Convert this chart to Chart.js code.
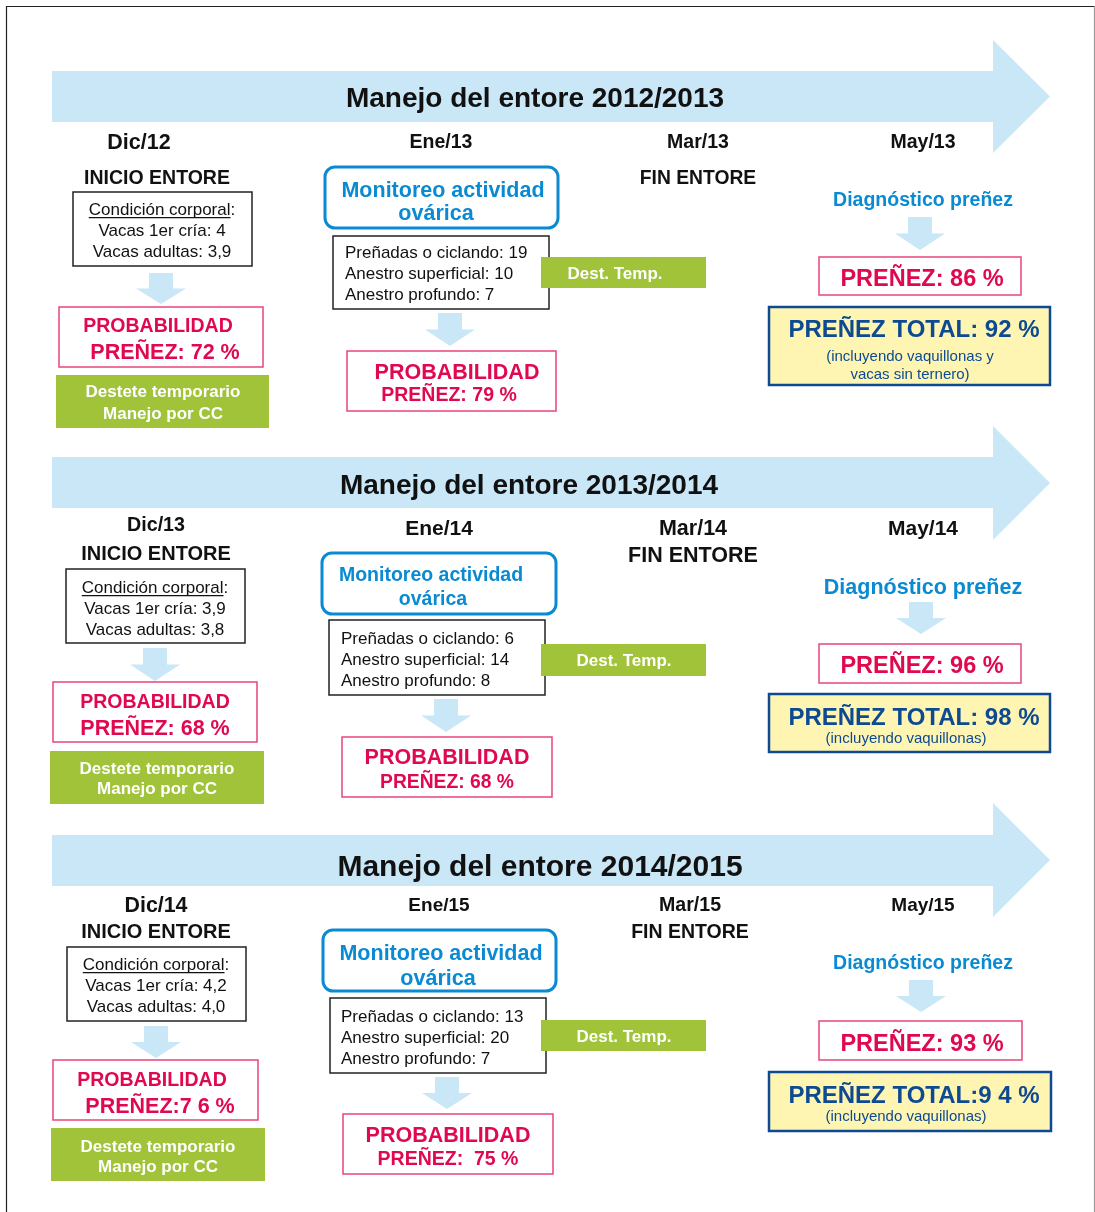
<!DOCTYPE html>
<html>
<head>
<meta charset="utf-8">
<script src="https://cdn.jsdelivr.net/npm/chart.js@4"></script>
<style>html,body{margin:0;padding:0;background:#fff}</style>
</head>
<body>
<canvas id="c" width="1095" height="1212"></canvas>
<script>
// data
const seasons = ['2012/2013', '2013/2014', '2014/2015'];
const months = [
  ['Dic/12', 'Ene/13', 'Mar/13', 'May/13'],
  ['Dic/13', 'Ene/14', 'Mar/14', 'May/14'],
  ['Dic/14', 'Ene/15', 'Mar/15', 'May/15']
];
const ccPrimerCria = ['4', '3,9', '4,2'];
const ccAdultas = ['3,9', '3,8', '4,0'];
const ciclando = [19, 6, 13];
const anestroSuperficial = [10, 14, 20];
const anestroProfundo = [7, 8, 7];
const probInicio = [72, 68, 76];
const probMonitoreo = [79, 68, 75];
const prenez = [86, 96, 93];
const prenezTotal = [92, 98, 94];
const totalNotes = [
  ['(incluyendo vaquillonas y', 'vacas sin ternero)'],
  ['(incluyendo vaquillonas)'],
  ['(incluyendo vaquillonas)']
];

// layout in picture units (x 0..1095, y 0..1212)
const layout = [
  {
    band: [52, 71, 122], head: [993, 40, 153, 1050], title: [535, 97, 28],
    months: [[139, 141, 21.5], [441, 141, 19.5], [698, 141, 19.5], [923, 141, 19.5]],
    inicio: [157, 177, 19.5], fin: [698, 177, 19.3],
    cc: { box: [73, 192, 179, 74], cx: 162, lines: [209, 230, 251] },
    arr1: [161, 273, 304],
    prob1: { box: [59, 307, 204, 60], l1: [158, 325, 19.5], l2: [165, 351, 21.5] },
    green: { box: [56, 375, 213, 53], cx: 163, l1: 391, l2: 413 },
    mon: { box: [325, 167, 233, 61], l1: [443, 189], l2: [436, 212], size: 21.5 },
    counts: { box: [333, 236, 216, 73], x: 345, lines: [252, 273, 294] },
    dest: { box: [541, 257, 165, 31], cx: 615 },
    arr2: [450, 313, 346],
    prob2: { box: [347, 351, 209, 60], l1: [457, 371, 21.5], l2: [449, 394, 19.5] },
    diag: [923, 199, 19.5],
    arr3: [920, 217, 250],
    prenez: { box: [819, 257, 202, 38], t: [922, 278, 23.5] },
    total: { box: [769, 307, 281, 78], t: [914, 328, 24], notes: [[910, 356], [910, 374]] }
  },
  {
    band: [52, 457, 508], head: [993, 426, 540, 1050], title: [529, 484, 28],
    months: [[156, 524, 19.7], [439, 527, 21], [693, 527, 21.5], [923, 527, 21]],
    inicio: [156, 553, 20], fin: [693, 554, 21.5],
    cc: { box: [66, 569, 179, 74], cx: 155, lines: [587, 608, 629] },
    arr1: [155, 648, 681],
    prob1: { box: [53, 682, 204, 60], l1: [155, 701, 19.5], l2: [155, 727, 21.5] },
    green: { box: [50, 751, 214, 53], cx: 157, l1: 768, l2: 788 },
    mon: { box: [322, 553, 234, 61], l1: [431, 574], l2: [433, 598], size: 19.5 },
    counts: { box: [329, 620, 216, 75], x: 341, lines: [638, 659, 680] },
    dest: { box: [541, 644, 165, 32], cx: 624 },
    arr2: [446, 699, 732],
    prob2: { box: [342, 737, 210, 60], l1: [447, 756, 21.5], l2: [447, 781, 19.3] },
    diag: [923, 586, 21.5],
    arr3: [921, 602, 634],
    prenez: { box: [819, 644, 202, 39], t: [922, 665, 23.5] },
    total: { box: [769, 694, 281, 58], t: [914, 716, 24], notes: [[906, 738]] }
  },
  {
    band: [52, 835, 886], head: [993, 803, 917, 1050], title: [540, 865, 30],
    months: [[156, 904, 21.4], [439, 904, 19], [690, 904, 19.6], [923, 904, 19]],
    inicio: [156, 931, 20], fin: [690, 931, 19.5],
    cc: { box: [67, 947, 179, 74], cx: 156, lines: [964, 985, 1006] },
    arr1: [156, 1026, 1058],
    prob1: { box: [53, 1060, 205, 60], l1: [152, 1079, 19.5], l2: [160, 1105, 21.5] },
    green: { box: [51, 1128, 214, 53], cx: 158, l1: 1146, l2: 1166 },
    mon: { box: [323, 930, 233, 61], l1: [441, 952], l2: [438, 977], size: 21.5 },
    counts: { box: [330, 998, 216, 75], x: 341, lines: [1016, 1037, 1058] },
    dest: { box: [541, 1020, 165, 31], cx: 624 },
    arr2: [447, 1077, 1109],
    prob2: { box: [343, 1114, 210, 60], l1: [448, 1134, 21.5], l2: [448, 1158, 19.5] },
    diag: [923, 962, 19.5],
    arr3: [921, 980, 1012],
    prenez: { box: [819, 1021, 203, 39], t: [922, 1043, 23.5] },
    total: { box: [769, 1072, 282, 59], t: [914, 1094, 24], notes: [[906, 1116]] }
  }
];

const FONT = "'Liberation Sans', Arial, sans-serif";
const LIGHT_BLUE = '#c9e7f7';
const CRIMSON = '#e0084e';
const PINK_BORDER = '#e8457a';
const BLUE = '#0a8ad2';
const GREEN = '#a0c33a';
const NAVY = '#0d4a92';
const YELLOW = '#fff5b3';

// panel 3 prints some numbers with spaced digits
function spaced(v, i) {
  return i === 2 ? String(v).split('').join(' ') : String(v);
}

const diagramPlugin = {
  id: 'diagram',
  afterDraw(chart) {
    const ctx = chart.ctx;
    const sx = chart.scales.x, sy = chart.scales.y;
    const X = v => sx.getPixelForValue(v);
    const Y = v => sy.getPixelForValue(v);

    function rect(b, stroke, fill, lw) {
      const x = X(b[0]), y = Y(b[1]), w = X(b[0] + b[2]) - x, h = Y(b[1] + b[3]) - y;
      if (fill) { ctx.fillStyle = fill; ctx.fillRect(x, y, w, h); }
      if (stroke) { ctx.strokeStyle = stroke; ctx.lineWidth = lw || 1.5; ctx.strokeRect(x, y, w, h); }
    }
    function roundRect(b, r, stroke, lw) {
      const x = X(b[0]), y = Y(b[1]), w = X(b[0] + b[2]) - x, h = Y(b[1] + b[3]) - y;
      ctx.beginPath();
      ctx.roundRect(x, y, w, h, r);
      ctx.fillStyle = '#fff';
      ctx.fill();
      ctx.strokeStyle = stroke; ctx.lineWidth = lw;
      ctx.stroke();
    }
    function txt(s, x, y, size, color, weight, align) {
      ctx.font = (weight || 'bold') + ' ' + size + 'px ' + FONT;
      ctx.fillStyle = color;
      ctx.textAlign = align || 'center';
      ctx.textBaseline = 'alphabetic';
      ctx.fillText(s, X(x), Y(y + size * 0.36));
    }
    function downArrow(a) {
      const cx = X(a[0]), top = Y(a[1]), bot = Y(a[2]);
      const mid = top + (bot - top) * 0.5;
      ctx.beginPath();
      ctx.moveTo(cx - 12, top); ctx.lineTo(cx + 12, top); ctx.lineTo(cx + 12, mid);
      ctx.lineTo(cx + 25, mid); ctx.lineTo(cx, bot); ctx.lineTo(cx - 25, mid);
      ctx.lineTo(cx - 12, mid); ctx.closePath();
      ctx.fillStyle = LIGHT_BLUE; ctx.fill();
    }

    ctx.save();
    // frame
    ctx.strokeStyle = '#222'; ctx.lineWidth = 1.2;
    ctx.beginPath();
    ctx.moveTo(X(6.5), Y(1212)); ctx.lineTo(X(6.5), Y(6.5)); ctx.lineTo(X(1094.5), Y(6.5));
    ctx.stroke();
    ctx.strokeStyle = '#999';
    ctx.beginPath(); ctx.moveTo(X(1094.5), Y(6.5)); ctx.lineTo(X(1094.5), Y(1212)); ctx.stroke();

    layout.forEach((L, i) => {
      // timeline arrow
      const [bx, bt, bb] = L.band, [hx, ht, hb, tip] = L.head;
      ctx.beginPath();
      ctx.moveTo(X(bx), Y(bt)); ctx.lineTo(X(hx), Y(bt)); ctx.lineTo(X(hx), Y(ht));
      ctx.lineTo(X(tip), Y((ht + hb) / 2)); ctx.lineTo(X(hx), Y(hb)); ctx.lineTo(X(hx), Y(bb));
      ctx.lineTo(X(bx), Y(bb)); ctx.closePath();
      ctx.fillStyle = LIGHT_BLUE; ctx.fill();
      txt('Manejo del entore ' + seasons[i], L.title[0], L.title[1], L.title[2], '#111');

      months[i].forEach((m, k) => txt(m, L.months[k][0], L.months[k][1], L.months[k][2], '#111'));
      txt('INICIO ENTORE', L.inicio[0], L.inicio[1], L.inicio[2], '#111');
      txt('FIN ENTORE', L.fin[0], L.fin[1], L.fin[2], '#111');

      // condicion corporal
      rect(L.cc.box, '#222', '#fff', 1.5);
      ctx.font = 'normal 17px ' + FONT;
      const head = 'Condición corporal', full = head + ':';
      const fw = ctx.measureText(full).width, hw = ctx.measureText(head).width;
      const x0 = X(L.cc.cx) - fw / 2;
      ctx.fillStyle = '#111'; ctx.textAlign = 'left'; ctx.textBaseline = 'alphabetic';
      const by = Y(L.cc.lines[0] + 17 * 0.36);
      ctx.fillText(full, x0, by);
      ctx.strokeStyle = '#111'; ctx.lineWidth = 1.2;
      ctx.beginPath(); ctx.moveTo(x0, by + 2.5); ctx.lineTo(x0 + hw, by + 2.5); ctx.stroke();
      txt('Vacas 1er cría: ' + ccPrimerCria[i], L.cc.cx, L.cc.lines[1], 17, '#111', 'normal');
      txt('Vacas adultas: ' + ccAdultas[i], L.cc.cx, L.cc.lines[2], 17, '#111', 'normal');

      downArrow(L.arr1);
      rect(L.prob1.box, PINK_BORDER, '#fff', 1.5);
      txt('PROBABILIDAD', L.prob1.l1[0], L.prob1.l1[1], L.prob1.l1[2], CRIMSON);
      txt('PREÑEZ:' + (i === 2 ? '' : ' ') + spaced(probInicio[i], i) + ' %', L.prob1.l2[0], L.prob1.l2[1], L.prob1.l2[2], CRIMSON);

      rect(L.green.box, null, GREEN);
      txt('Destete temporario', L.green.cx, L.green.l1, 17, '#fff');
      txt('Manejo por CC', L.green.cx, L.green.l2, 17, '#fff');

      // monitoreo
      roundRect(L.mon.box, 10, BLUE, 3);
      txt('Monitoreo actividad', L.mon.l1[0], L.mon.l1[1], L.mon.size, BLUE);
      txt('ovárica', L.mon.l2[0], L.mon.l2[1], L.mon.size, BLUE);

      rect(L.counts.box, '#222', '#fff', 1.5);
      txt('Preñadas o ciclando: ' + ciclando[i], L.counts.x, L.counts.lines[0], 17, '#111', 'normal', 'left');
      txt('Anestro superficial: ' + anestroSuperficial[i], L.counts.x, L.counts.lines[1], 17, '#111', 'normal', 'left');
      txt('Anestro profundo: ' + anestroProfundo[i], L.counts.x, L.counts.lines[2], 17, '#111', 'normal', 'left');

      rect(L.dest.box, null, GREEN);
      txt('Dest. Temp.', L.dest.cx, L.dest.box[1] + L.dest.box[3] / 2, 17, '#fff');

      downArrow(L.arr2);
      rect(L.prob2.box, PINK_BORDER, '#fff', 1.5);
      txt('PROBABILIDAD', L.prob2.l1[0], L.prob2.l1[1], L.prob2.l1[2], CRIMSON);
      txt('PREÑEZ: ' + (i === 2 ? ' ' : '') + probMonitoreo[i] + ' %', L.prob2.l2[0], L.prob2.l2[1], L.prob2.l2[2], CRIMSON);

      // diagnostico
      txt('Diagnóstico preñez', L.diag[0], L.diag[1], L.diag[2], BLUE);
      downArrow(L.arr3);
      rect(L.prenez.box, PINK_BORDER, '#fff', 1.5);
      txt('PREÑEZ: ' + prenez[i] + ' %', L.prenez.t[0], L.prenez.t[1], L.prenez.t[2], CRIMSON);

      rect(L.total.box, NAVY, YELLOW, 2.5);
      txt('PREÑEZ TOTAL:' + (i === 2 ? '' : ' ') + spaced(prenezTotal[i], i) + ' %', L.total.t[0], L.total.t[1], L.total.t[2], NAVY);
      totalNotes[i].forEach((n, k) => txt(n, L.total.notes[k][0], L.total.notes[k][1], 15, NAVY, 'normal'));
    });
    ctx.restore();
  }
};

new Chart(document.getElementById('c'), {
  type: 'scatter',
  data: { datasets: [] },
  options: {
    responsive: false,
    animation: false,
    layout: { padding: 0 },
    plugins: { legend: { display: false }, tooltip: { enabled: false } },
    scales: {
      x: { type: 'linear', min: 0, max: 1095, display: false },
      y: { type: 'linear', min: 0, max: 1212, reverse: true, display: false }
    }
  },
  plugins: [diagramPlugin]
});
</script>
</body>
</html>
